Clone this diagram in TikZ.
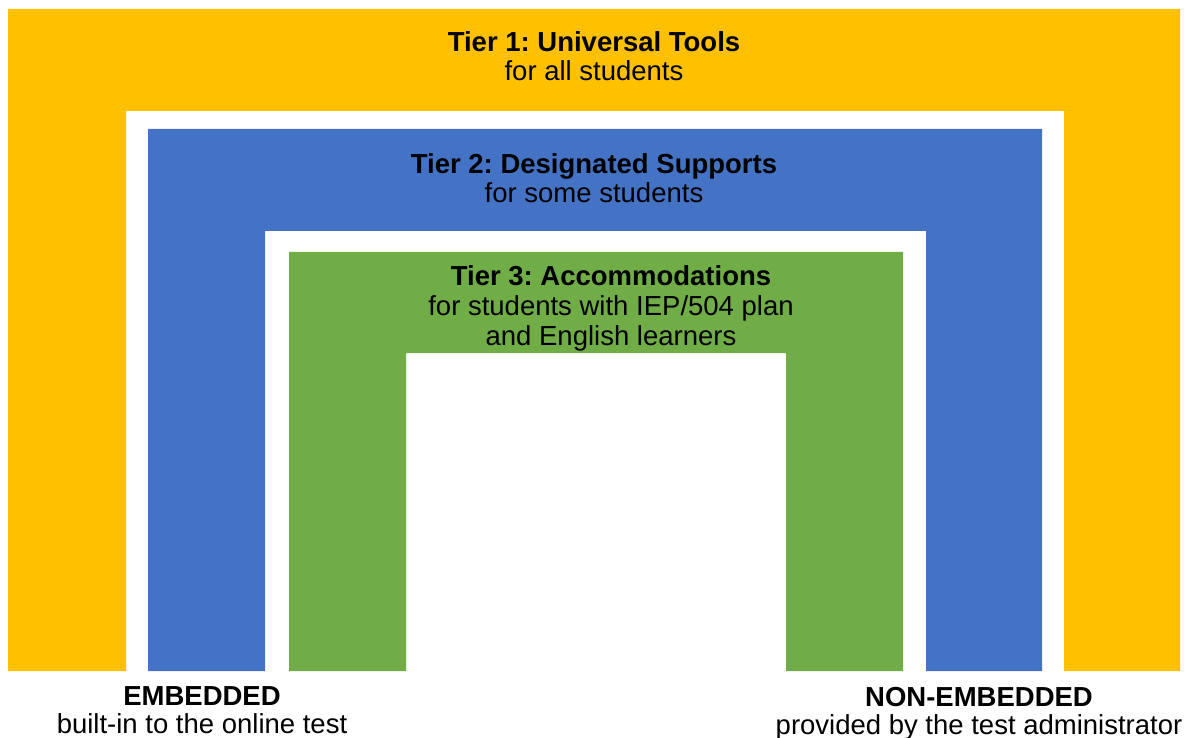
\documentclass[tikz,border=0pt]{standalone}
\usepackage{fontspec}
\setmainfont{Liberation Sans}
\definecolor{tieryellow}{HTML}{FFC000}
\definecolor{tierblue}{HTML}{4472C4}
\definecolor{tiergreen}{HTML}{70AD47}
\begin{document}
\begin{tikzpicture}[x=1pt,y=-1pt,
  title/.style={font=\fontsize{27.5}{30}\selectfont\bfseries\frenchspacing, anchor=base, inner sep=0pt},
  sub/.style={font=\fontsize{27.5}{30}\selectfont\frenchspacing, anchor=base, inner sep=0pt}]
\useasboundingbox (0,0) rectangle (1187,738);
% Tier 1 arch
\fill[tieryellow] (8,9) -- (1180,9) -- (1180,671) -- (1064,671) -- (1064,111) -- (126,111) -- (126,671) -- (8,671) -- cycle;
% Tier 2 arch
\fill[tierblue] (148,129) -- (1042,129) -- (1042,671) -- (926,671) -- (926,231) -- (265,231) -- (265,671) -- (148,671) -- cycle;
% Tier 3 arch
\fill[tiergreen] (289,252) -- (903,252) -- (903,671) -- (786,671) -- (786,353) -- (406,353) -- (406,671) -- (289,671) -- cycle;
% texts
\node[title] (t1) at (594,52) {Tier 1: Universal Tools};
\node[sub] (t1s) at (594,81) {for all students};
\node[title] (t2) at (594,174) {Tier 2: Designated Supports};
\node[sub] (t2s) at (594,203) {for some students};
\node[title] (t3) at (611,286) {Tier 3: Accommodations};
\node[sub] (t3s) at (611,316) {for students with IEP/504 plan};
\node[sub] (t3t) at (611,345) {and English learners};
\node[title] (emb) at (202,705) {EMBEDDED};
\node[sub] (embs) at (202,733) {built-in to the online test};
\node[title] (nemb) at (979,706) {NON-EMBEDDED};
\node[sub] (nembs) at (979,734) {provided by the test administrator};
\end{tikzpicture}
\end{document}
